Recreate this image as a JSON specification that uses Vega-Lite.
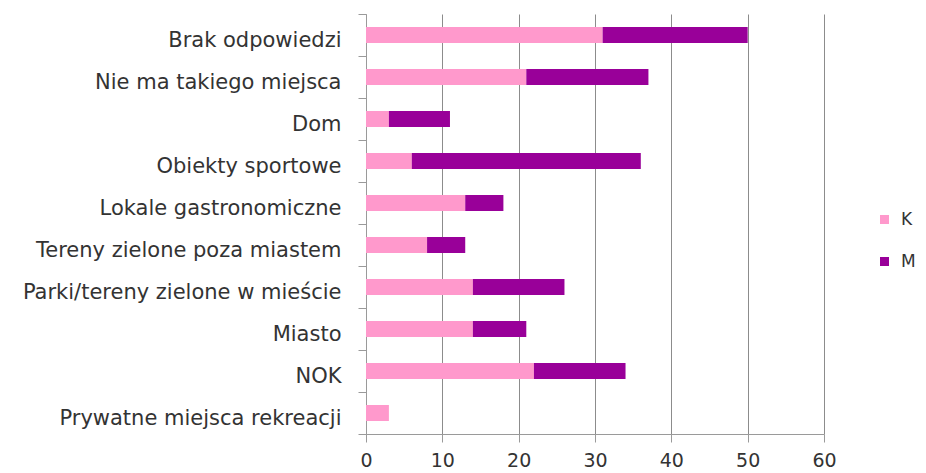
{
  "$schema": "https://vega.github.io/schema/vega-lite/v6.json",
  "autosize": "none",
  "width": 458,
  "height": 420,
  "padding": {"left": 366, "top": 14, "right": 102, "bottom": 39},
  "background": "white",
  "data": {
    "values": [
      {"miejsce": "Brak odpowiedzi", "plec": "K", "liczba": 31},
      {"miejsce": "Brak odpowiedzi", "plec": "M", "liczba": 19},
      {"miejsce": "Nie ma takiego miejsca", "plec": "K", "liczba": 21},
      {"miejsce": "Nie ma takiego miejsca", "plec": "M", "liczba": 16},
      {"miejsce": "Dom", "plec": "K", "liczba": 3},
      {"miejsce": "Dom", "plec": "M", "liczba": 8},
      {"miejsce": "Obiekty sportowe", "plec": "K", "liczba": 6},
      {"miejsce": "Obiekty sportowe", "plec": "M", "liczba": 30},
      {"miejsce": "Lokale gastronomiczne", "plec": "K", "liczba": 13},
      {"miejsce": "Lokale gastronomiczne", "plec": "M", "liczba": 5},
      {"miejsce": "Tereny zielone poza miastem", "plec": "K", "liczba": 8},
      {"miejsce": "Tereny zielone poza miastem", "plec": "M", "liczba": 5},
      {"miejsce": "Parki/tereny zielone w mieście", "plec": "K", "liczba": 14},
      {"miejsce": "Parki/tereny zielone w mieście", "plec": "M", "liczba": 12},
      {"miejsce": "Miasto", "plec": "K", "liczba": 14},
      {"miejsce": "Miasto", "plec": "M", "liczba": 7},
      {"miejsce": "NOK", "plec": "K", "liczba": 22},
      {"miejsce": "NOK", "plec": "M", "liczba": 12},
      {"miejsce": "Prywatne miejsca rekreacji", "plec": "K", "liczba": 3},
      {"miejsce": "Prywatne miejsca rekreacji", "plec": "M", "liczba": 0}
    ]
  },
  "mark": {"type": "bar", "size": 16},
  "encoding": {
    "y": {
      "field": "miejsce",
      "type": "nominal",
      "sort": null,
      "scale": {"paddingInner": 0, "paddingOuter": 0},
      "axis": {
        "title": null,
        "bandPosition": 0,
        "tickBand": "extent",
        "domainColor": "#9a9a9a",
        "tickColor": "#9a9a9a",
        "tickSize": 8,
        "labelPadding": 17,
        "labelOffset": 5,
        "labelFont": "DejaVu Sans",
        "labelFontSize": 21,
        "labelColor": "#333333",
        "labelLimit": 400
      }
    },
    "x": {
      "field": "liczba",
      "type": "quantitative",
      "aggregate": "sum",
      "stack": "zero",
      "scale": {"domain": [0, 60], "nice": false},
      "axis": {
        "title": null,
        "values": [0, 10, 20, 30, 40, 50, 60],
        "grid": true,
        "gridColor": "#8c8c8c",
        "gridWidth": 1,
        "domainColor": "#9a9a9a",
        "tickColor": "#9a9a9a",
        "tickSize": 8,
        "labelPadding": 9,
        "labelFlush": false,
        "labelFont": "DejaVu Sans",
        "labelFontSize": 19,
        "labelColor": "#333333"
      }
    },
    "color": {
      "field": "plec",
      "type": "nominal",
      "scale": {"domain": ["K", "M"], "range": ["#ff99cc", "#990099"]},
      "legend": {
        "title": null,
        "orient": "none",
        "legendX": 510,
        "legendY": 197,
        "symbolType": "square",
        "symbolSize": 81,
        "symbolStrokeWidth": 0,
        "rowPadding": 24,
        "labelFont": "DejaVu Sans",
        "labelFontSize": 17,
        "labelColor": "#333333",
        "labelOffset": 8
      }
    }
  },
  "config": {"view": {"stroke": null}}
}
